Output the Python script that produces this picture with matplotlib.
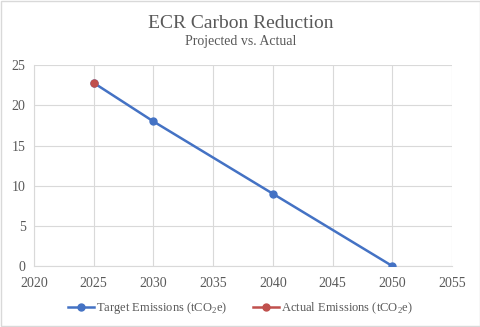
import matplotlib.pyplot as plt

# chart data
target_years = [2025, 2030, 2040, 2050]
target_values = [22.8, 18.0, 9.0, 0.0]
actual_years = [2025]
actual_values = [22.8]

title = "ECR Carbon Reduction"
subtitle = "Projected vs. Actual"

plt.rcParams["font.family"] = ["Liberation Serif", "DejaVu Serif"]
plt.rcParams["mathtext.fontset"] = "custom"
plt.rcParams["mathtext.rm"] = "Liberation Serif"

text_color = "#595959"
grid_color = "#d9d9d9"

fig = plt.figure(figsize=(4.81, 3.27), dpi=100)
ax = fig.add_axes([0.0707, 0.1865, 0.869, 0.614])

ax.plot(target_years, target_values, color="#4472C4", linewidth=1.8,
        marker="o", markersize=5, label="Target Emissions (tCO$_2$e)", zorder=3)
ax.plot(actual_years, actual_values, color="#C0504D", linewidth=1.8,
        marker="o", markersize=5, label="Actual Emissions (tCO$_2$e)", zorder=4)

ax.set_xlim(2020, 2055)
ax.set_ylim(0, 25)
ax.set_xticks(range(2020, 2056, 5))
ax.set_yticks(range(0, 26, 5))
ax.grid(True, color=grid_color, linewidth=0.8)
ax.set_axisbelow(True)
for side in ["top", "right"]:
    ax.spines[side].set_visible(False)
for side in ["left", "bottom"]:
    ax.spines[side].set_color(grid_color)
ax.tick_params(axis="x", length=0, colors=text_color, labelsize=10, pad=8)
ax.tick_params(axis="y", length=0, colors=text_color, labelsize=10, pad=6)

fig.text(0.5, 0.929, title, ha="center", va="center", fontsize=14, color=text_color)
fig.text(0.5, 0.873, subtitle, ha="center", va="center", fontsize=10, color=text_color)

fig.legend(loc="center", bbox_to_anchor=(0.5, 0.058), ncol=2, frameon=False,
           fontsize=9, labelcolor=text_color, handlelength=2.1,
           columnspacing=2.0, handletextpad=0.2)

# light outer border
fig.patches.append(plt.Rectangle((0.002, 0.003), 0.996, 0.994, transform=fig.transFigure,
                                 fill=False, edgecolor="#d9d9d9", linewidth=1))

fig.savefig("out.png", dpi=100)
